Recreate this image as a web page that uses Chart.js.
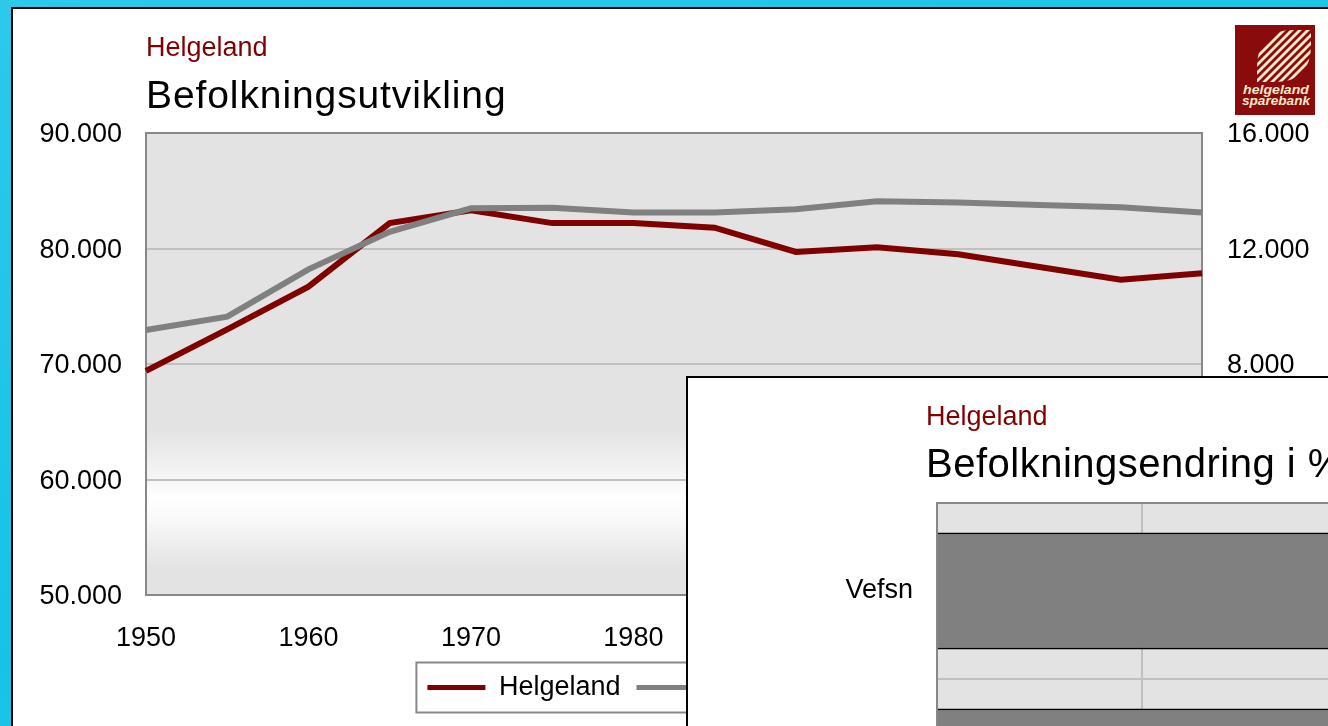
<!DOCTYPE html>
<html>
<head>
<meta charset="utf-8">
<title>Befolkningsutvikling</title>
<script src="https://cdn.jsdelivr.net/npm/chart.js@4.4.1/dist/chart.umd.min.js"></script>
<style>
  html, body { margin: 0; padding: 0; }
  body {
    width: 1328px; height: 726px; overflow: hidden; position: relative;
    background: linear-gradient(160deg, #2cc9ea 0%, #16c3e6 55%, #3fcfee 100%);
    font-family: 'Liberation Sans', Arial, sans-serif;
  }
  #panel { position: absolute; left: 11px; top: 7px; width: 1340px; height: 740px; background: #fff; border: 2px solid #000; }
  #main { position: absolute; left: 0; top: 0; }
  .sub { position: absolute; color: #800000; font-size: 27px; line-height: 1; white-space: nowrap; }
  .ttl { position: absolute; color: #000; font-size: 39px; line-height: 1; white-space: nowrap; letter-spacing: 0.9px; }
  #logo { position: absolute; left: 1235px; top: 25px; }
  #inset { position: absolute; left: 686px; top: 376px; width: 900px; height: 420px; background: #fff; border: 2px solid #000; }
  #inset canvas { position: absolute; left: 0; top: 0; }
  #inset .ttl { font-size: 40px; letter-spacing: 0.5px; }
</style>
</head>
<body>
<div id="panel"></div>
<canvas id="main" width="1328" height="726"></canvas>
<div class="sub" style="left:146px; top:34px;">Helgeland</div>
<div class="ttl" style="left:146px; top:75px;">Befolkningsutvikling</div>

<svg id="logo" width="80" height="90" viewBox="0 0 80 90">
  <defs>
    <clipPath id="fan"><path d="M22,57 L22,42 Q22,5 58,5 L76,5 L76,20 Q76,57 40,57 Z"/></clipPath>
  </defs>
  <rect width="80" height="90" fill="#8a0b0b"/>
  <g clip-path="url(#fan)" stroke="#f6e8c8" stroke-width="2.8">
    <line x1="0" y1="54" x2="54" y2="0"/>
    <line x1="0" y1="62" x2="62" y2="0"/>
    <line x1="0" y1="70" x2="70" y2="0"/>
    <line x1="0" y1="78" x2="78" y2="0"/>
    <line x1="0" y1="86" x2="86" y2="0"/>
    <line x1="0" y1="94" x2="94" y2="0"/>
    <line x1="0" y1="102" x2="102" y2="0"/>
    <line x1="0" y1="110" x2="110" y2="0"/>
  </g>
  <g fill="#f6e8c8" font-family="Liberation Sans, Arial, sans-serif" font-weight="bold" font-style="italic" font-size="12.5" text-anchor="middle">
    <text x="41" y="69" textLength="66" lengthAdjust="spacingAndGlyphs">helgeland</text>
    <text x="41" y="80" textLength="68" lengthAdjust="spacingAndGlyphs">sparebank</text>
  </g>
</svg>

<div id="inset">
  <canvas id="endring" width="884" height="530"></canvas>
  <div class="sub" style="left:238px; top:25px;">Helgeland</div>
  <div class="ttl" style="left:238px; top:65px;">Befolkningsendring i %</div>
</div>

<script>
// Befolkning, Helgeland (venstre akse) og Vefsn (høyre akse)
const years = ['1950', '1955', '1960', '1965', '1970', '1975', '1980', '1985', '1990', '1995', '2000', '2005', '2010', '2013'];
const helgeland = [69400, 73000, 76700, 82200, 83300, 82200, 82200, 81800, 79700, 80100, 79500, 78400, 77300, 77850];
const vefsn = [9180, 9640, 11280, 12580, 13390, 13410, 13250, 13250, 13360, 13640, 13590, 13510, 13430, 13250];
const leftTicks = [50000, 60000, 70000, 80000, 90000];
const rightTicks = [0, 4000, 8000, 12000, 16000];

// Befolkningsendring i % (innfelt diagram)
const kommuner = ['Vefsn', 'Rana'];
const endring = [44, 41];
const endringTicks = [0, 20, 40, 60];

Chart.defaults.font.family = "'Liberation Sans', Arial, sans-serif";
Chart.defaults.color = '#000';

const fmt = v => v === 0 ? '0' : String(v).replace(/\B(?=(\d{3})+(?!\d))/g, '.');

// plot background + grey frame
const plotFrame = {
  id: 'plotFrame',
  beforeDraw(chart, args, opts) {
    const { ctx, chartArea: a } = chart;
    ctx.save();
    if (opts.gradient) {
      const g = ctx.createLinearGradient(0, a.top, 0, a.bottom);
      opts.gradient.forEach(([p, c]) => g.addColorStop(p, c));
      ctx.fillStyle = g;
    } else {
      ctx.fillStyle = opts.fill;
    }
    ctx.fillRect(a.left, a.top, a.width, a.height);
    ctx.restore();
  },
  beforeDatasetsDraw(chart) {
    const { ctx, chartArea: a } = chart;
    ctx.save();
    ctx.strokeStyle = '#888';
    ctx.lineWidth = 2;
    ctx.strokeRect(a.left, a.top, a.width, a.height);
    ctx.restore();
  }
};

// box round the legend
const legendFrame = {
  id: 'legendFrame',
  afterDraw(chart) {
    const boxes = chart.legend && chart.legend.legendHitBoxes;
    if (!boxes || !boxes.length) return;
    const first = boxes[0], last = boxes[boxes.length - 1];
    const cy = first.top + first.height / 2;
    const ctx = chart.ctx;
    ctx.save();
    ctx.strokeStyle = '#888';
    ctx.lineWidth = 2;
    ctx.strokeRect(first.left - 11, cy - 25, last.left + last.width - first.left + 22, 50);
    ctx.restore();
  }
};

new Chart(document.getElementById('main'), {
  type: 'line',
  data: {
    labels: years,
    datasets: [
      { label: 'Helgeland', data: helgeland, yAxisID: 'y', borderColor: '#800000', borderWidth: 6, pointRadius: 0, tension: 0, order: 2 },
      { label: 'Vefsn (høyre akse)', data: vefsn, yAxisID: 'y1', borderColor: '#808080', borderWidth: 6, pointRadius: 0, tension: 0, order: 1 }
    ]
  },
  options: {
    responsive: false,
    animation: false,
    events: [],
    layout: { padding: { left: 34, right: 0, top: 133, bottom: 15 } },
    scales: {
      x: {
        offset: false,
        grid: { display: false, drawTicks: false },
        border: { display: false },
        ticks: {
          autoSkip: false, maxRotation: 0, padding: 27, font: { size: 27 },
          callback(v, i) { return i % 2 === 0 ? this.getLabelForValue(v) : ''; }
        },
        afterFit(s) { s.height = 63; }
      },
      y: {
        position: 'left',
        min: leftTicks[0], max: leftTicks[leftTicks.length - 1],
        ticks: { stepSize: leftTicks[1] - leftTicks[0], padding: 24, labelOffset: 2, font: { size: 27 }, callback: fmt },
        grid: { color: '#c0c0c0', lineWidth: 2, drawTicks: false },
        border: { display: false },
        afterFit(s) { s.width = 112; }
      },
      y1: {
        position: 'right',
        min: rightTicks[0], max: rightTicks[rightTicks.length - 1],
        ticks: { stepSize: rightTicks[1] - rightTicks[0], padding: 25, labelOffset: 2, font: { size: 27 }, callback: fmt },
        grid: { display: false, drawTicks: false },
        border: { display: false },
        afterFit(s) { s.width = 126; }
      }
    },
    plugins: {
      tooltip: { enabled: false },
      legend: {
        position: 'bottom',
        labels: {
          boxWidth: 58, boxHeight: 5, padding: 16, font: { size: 27 },
          generateLabels: chart => chart.data.datasets.map((ds, i) => ({
            text: ds.label, fillStyle: ds.borderColor, strokeStyle: ds.borderColor,
            lineWidth: 0, hidden: false, datasetIndex: i
          }))
        }
      },
      plotFrame: {
        gradient: [[0, '#e3e3e3'], [0.64, '#e3e3e3'], [0.74, '#f4f4f4'], [0.79, '#ffffff'],
                   [0.84, '#f8f8f8'], [0.94, '#e3e3e3'], [1, '#e3e3e3']]
      }
    }
  },
  plugins: [plotFrame, legendFrame]
});

new Chart(document.getElementById('endring'), {
  type: 'bar',
  data: {
    labels: kommuner,
    datasets: [{
      label: 'Befolkningsendring i %', data: endring,
      backgroundColor: '#808080', borderColor: '#000', borderWidth: 2,
      barPercentage: 0.665, categoryPercentage: 1
    }]
  },
  options: {
    indexAxis: 'y',
    responsive: false,
    animation: false,
    events: [],
    layout: { padding: { left: 0, right: 20, top: 125, bottom: 13 } },
    scales: {
      x: {
        min: endringTicks[0], max: endringTicks[endringTicks.length - 1],
        ticks: { stepSize: endringTicks[1] - endringTicks[0], font: { size: 27 } },
        grid: { color: '#c0c0c0', lineWidth: 2, drawTicks: false },
        border: { display: false },
        afterFit(s) { s.height = 40; }
      },
      y: {
        grid: { color: '#c0c0c0', lineWidth: 2, drawTicks: false, offset: true },
        border: { display: false },
        ticks: { padding: 24, font: { size: 27 } },
        afterFit(s) { s.width = 249; }
      }
    },
    plugins: {
      legend: { display: false },
      tooltip: { enabled: false },
      plotFrame: { fill: '#e3e3e3' }
    }
  },
  plugins: [plotFrame]
});
</script>
</body>
</html>
